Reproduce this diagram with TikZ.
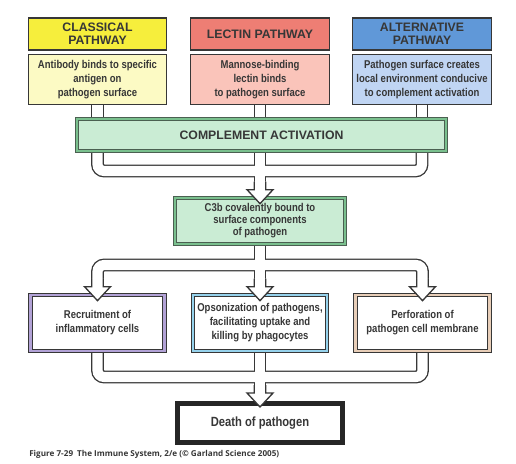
\documentclass[tikz,border=0pt]{standalone}
\usepackage{fontspec}
\setmainfont{Liberation Sans}
\newfontfamily\narrowfont[FakeStretch=0.84]{Liberation Sans}
\newfontfamily\capfont{Open Sans}
\usetikzlibrary{backgrounds}

\definecolor{inkgray}{RGB}{55,55,55}
\definecolor{clshead}{RGB}{246,238,60}
\definecolor{clsdesc}{RGB}{252,250,196}
\definecolor{lechead}{RGB}{238,126,116}
\definecolor{lecdesc}{RGB}{250,196,186}
\definecolor{althead}{RGB}{96,152,216}
\definecolor{altdesc}{RGB}{192,213,243}
\definecolor{cafill}{RGB}{202,236,212}
\definecolor{caband}{RGB}{122,192,142}
\definecolor{recband}{RGB}{178,162,214}
\definecolor{opsband}{RGB}{150,210,236}
\definecolor{perfband}{RGB}{232,206,184}

% all pipe centre lines, drawn once as edge and once as core
\newcommand{\pipepaths}[1]{%
  \draw[#1] (clsdesc.south) -- (clsdesc.south |- ca.north);
  \draw[#1] (lecdesc.south) -- (lecdesc.south |- ca.north);
  \draw[#1] (altdesc.south) -- (altdesc.south |- ca.north);
  \draw[#1] (clsdesc.south |- ca.south) |- (split1);
  \draw[#1] (altdesc.south |- ca.south) |- (split1);
  \draw[#1] (split1 |- ca.south) -- (c3b.north);
  \draw[#1] (split2) -| (rec.north);
  \draw[#1] (split2) -| (perf.north);
  \draw[#1] (c3b.south) -- (ops.north);
  \draw[#1] (rec.south) |- (split3);
  \draw[#1] (perf.south) |- (split3);
  \draw[#1] (ops.south) -- (death.north);
}
% open arrow head at the top of a box
\newcommand{\hollowtip}[1]{%
  \begin{scope}[shift={([yshift=-4.5pt]#1.north)}]
    \fill[white] (-5.75,-22) -- (-5.75,-14) -- (-13,-14) -- (0,0) -- (13,-14) -- (5.75,-14) -- (5.75,-22) -- cycle;
    \draw[tipline] (-5.75,-22) -- (-5.75,-14) -- (-13,-14) -- (0,0) -- (13,-14) -- (5.75,-14) -- (5.75,-22);
  \end{scope}%
}

\begin{document}
\begin{tikzpicture}[x=0.75pt, y=-0.75pt,
    head/.style={draw=inkgray, line width=0.8pt, minimum width=104pt, minimum height=24pt, inner sep=0pt,
      align=center, text=inkgray, font=\fontsize{9.2}{10}\selectfont\bfseries},
    desc/.style={draw=inkgray, line width=0.8pt, minimum width=104pt, minimum height=38pt, inner sep=0pt,
      align=center, text=inkgray, font=\narrowfont\bfseries\fontsize{8.5}{10.5}\selectfont},
    cabox/.style={draw=inkgray!70!caband, double=caband, line width=0.5pt, double distance=2pt, fill=cafill,
      inner sep=0pt, align=center, text=inkgray},
    framed/.style={draw=inkgray, line width=0.5pt, double distance=2.2pt, fill=white,
      minimum width=100.5pt, minimum height=42pt, inner sep=0pt, align=center, text=inkgray,
      font=\narrowfont\bfseries\fontsize{8.5}{10.5}\selectfont},
    pipeedge/.style={draw=inkgray, line width=9.6pt, rounded corners=5pt},
    pipecore/.style={draw=white, line width=7.6pt, rounded corners=5pt},
    tipline/.style={draw=inkgray, line width=1pt, line join=miter}]
  \useasboundingbox (0,0) rectangle (516,463);

  % Pathways
  \node[head, fill=clshead] (clshead) at (97.5,34) {CLASSICAL\\PATHWAY};
  \node[head, fill=lechead] (lechead) at (260,34) {LECTIN PATHWAY};
  \node[head, fill=althead] (althead) at (422,34) {ALTERNATIVE\\PATHWAY};
  \node[desc, fill=clsdesc] (clsdesc) at (97.5,79.5) {Antibody binds to specific\\antigen on\\pathogen surface};
  \node[desc, fill=lecdesc] (lecdesc) at (260,79.5) {Mannose-binding\\lectin binds\\to pathogen surface};
  \node[desc, fill=altdesc] (altdesc) at (422,79.5) {Pathogen surface creates\\local environment conducive\\to complement activation};

  % Complement activation and C3b
  \node[cabox, minimum width=276.75pt, minimum height=24pt, font=\fontsize{9.2}{10}\selectfont\bfseries]
    (ca) at (261.5,135) {COMPLEMENT ACTIVATION};
  \node[cabox, minimum width=127.5pt, minimum height=34.5pt, font=\narrowfont\bfseries\fontsize{8.5}{9}\selectfont]
    (c3b) at (260,221) {C3b covalently bound to\\surface components\\of pathogen};

  % Effector mechanisms
  \node[framed, double=recband] (rec) at (97.5,323) {Recruitment of\\inflammatory cells};
  \node[framed, double=opsband] (ops) at (260,323) {Opsonization of pathogens,\\facilitating uptake and\\killing by phagocytes};
  \node[framed, double=perfband] (perf) at (422.5,323) {Perforation of\\pathogen cell membrane};

  % Outcome
  \node[draw=black!85, line width=3.5pt, fill=white, minimum width=124pt, minimum height=29.5pt, text=inkgray,
    font=\narrowfont\bfseries\fontsize{10}{12}\selectfont] (death) at (260,423) {Death of pathogen};

  \node[anchor=west, text=inkgray, inner sep=0pt, font=\capfont\bfseries\fontsize{6.1}{7}\selectfont]
    (caption) at (29,454) {Figure 7-29\enspace The Immune System, 2/e (\textcopyright{} Garland Science 2005)};

  % Pipes
  \coordinate (split1) at (260,171);
  \coordinate (split2) at (260,265);
  \coordinate (split3) at (260,377);
  \begin{scope}[on background layer]
    \pipepaths{pipeedge}
    \pipepaths{pipecore}
  \end{scope}
  \hollowtip{c3b}
  \hollowtip{rec}
  \hollowtip{ops}
  \hollowtip{perf}
  \hollowtip{death}
\end{tikzpicture}
\end{document}
